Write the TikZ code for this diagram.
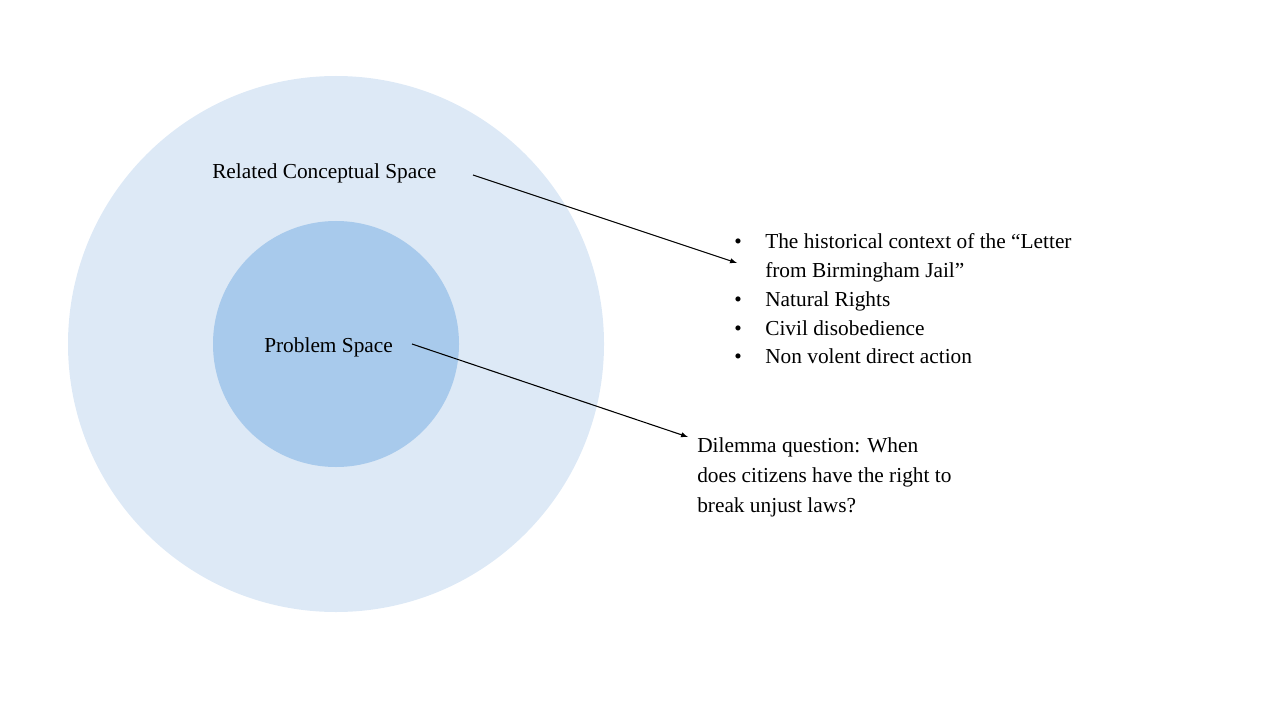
\documentclass[tikz,border=0pt]{standalone}
\usepackage{fontspec}
\setmainfont{Liberation Serif}
\begin{document}
\begin{tikzpicture}[x=0.75pt,y=-0.75pt,
  txt/.style={anchor=base west,inner sep=0pt,font=\fontsize{16}{21.75}\selectfont},
  arr/.style={-latex,thick}]
\definecolor{outerc}{HTML}{DDE9F6}
\definecolor{innerc}{HTML}{A8CAEC}
\useasboundingbox (0,0) rectangle (1280,720);
\fill[outerc] (336,344) circle (268);
\fill[innerc] (336,344) circle (123);
\node[txt] (rel) at (212,179) {Related Conceptual Space};
\node[txt] (prob) at (264,352) {Problem Space};
\coordinate (a1s) at (473,175);
\coordinate (a1e) at (737,263);
\coordinate (a2s) at (412,344);
\coordinate (a2e) at (688,437);
\draw[arr] (a1s) -- (a1e);
\draw[arr] (a2s) -- (a2e);
\foreach \y/\t [count=\i] in {248/{The historical context of the ``Letter},306/{Natural Rights},335/{Civil disobedience},363/{Non volent direct action}}{
  \node[txt] (b\i) at (734,\y) {\textbullet};
  \node[txt] (t\i) at (765,\y) {\t};
}
\node[txt] (t1b) at (765,277) {from Birmingham Jail''};
\node[txt] (d1) at (697,452) {Dilemma question: When};
\node[txt] (d2) at (697,482) {does citizens have the right to};
\node[txt] (d3) at (697,512) {break unjust laws?};
\end{tikzpicture}
\end{document}
